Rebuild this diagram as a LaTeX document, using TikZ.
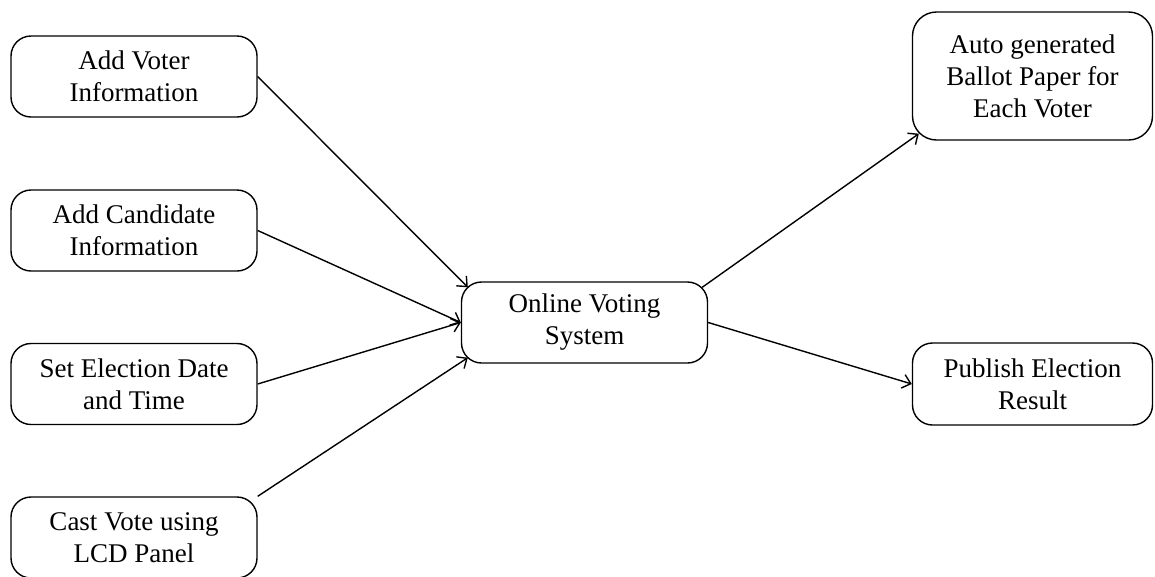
\documentclass[tikz,border=0pt]{standalone}
\usepackage{fontspec}
\setmainfont{Liberation Serif}
\usetikzlibrary{arrows.meta,calc}
\begin{document}
\begin{tikzpicture}[x=1pt,y=-1pt,
  box/.style={draw,line width=1.4pt,rounded corners=20pt,align=center,
    inner sep=0pt,font=\fontsize{27}{32}\selectfont},
  arr/.style={line width=1.4pt,-{Straight Barb[length=8pt,width=14pt,line width=1.4pt]}},
  ln/.style={line width=1.4pt}]
\useasboundingbox (0,0) rectangle (1155,576);
\node[box,minimum width=246pt,minimum height=81pt] (b1) at (134,76.5) {Add Voter\\Information};
\node[box,minimum width=246pt,minimum height=81pt] (b2) at (134,230.5) {Add Candidate\\Information};
\node[box,minimum width=246pt,minimum height=81pt] (b3) at (134,384) {Set Election Date\\and Time};
\node[box,minimum width=246pt,minimum height=81pt] (b4) at (134,537.5) {Cast Vote using\\LCD Panel};
\node[box,minimum width=246pt,minimum height=81pt] (c) at (584.5,322.5) {Online Voting\\System};
\node[box,rounded corners=24pt,minimum width=240pt,minimum height=128pt] (r1) at (1032.5,76) {Auto generated\\Ballot Paper for\\Each Voter};
\node[box,minimum width=240pt,minimum height=82pt] (r2) at (1032.5,384) {Publish Election\\Result};
\draw[arr] (b1.east) -- ($(c.north west)+(7,6)$);
\draw[arr] (b2.east) -- (c.west);
\draw[arr] (b3.east) -- (c.west);
\draw[arr] (b4.north east) -- ($(c.south west)+(7,-6)$);
\draw[arr] ($(c.north east)+(-6,6)$) -- ($(r1.south west)+(7,-7)$);
\draw[arr] (c.east) -- (r2.west);
\end{tikzpicture}
\end{document}
